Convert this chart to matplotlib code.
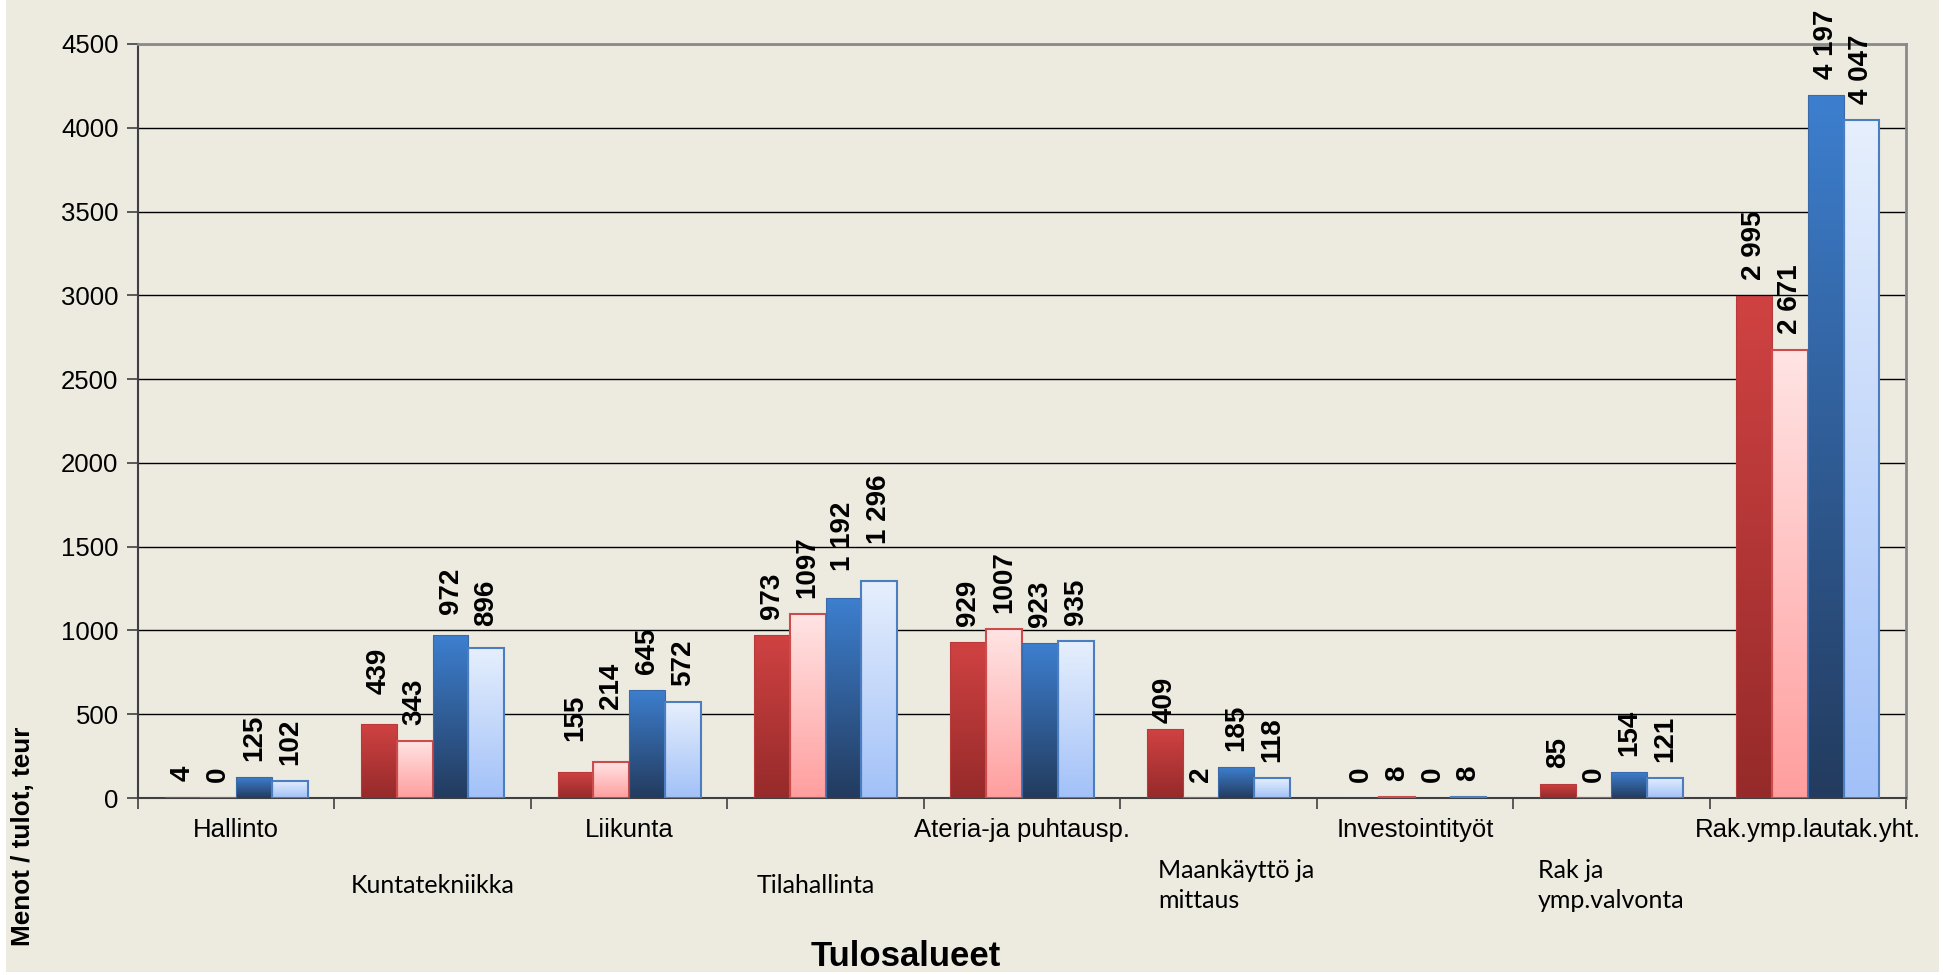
import numpy as np
import matplotlib
matplotlib.use("Agg")
import matplotlib.pyplot as plt
from matplotlib.patches import Rectangle
from matplotlib.colors import LinearSegmentedColormap
import matplotlib.transforms as mtransforms

# ---------------- data ----------------
categories = ["Hallinto", "Kuntatekniikka", "Liikunta", "Tilahallinta",
              "Ateria-ja puhtausp.", "Maankäyttö ja\nmittaus", "Investointityöt",
              "Rak ja\nymp.valvonta", "Rak.ymp.lautak.yht."]

s1_values = [4, 439, 155, 973, 929, 409, 0, 85, 2995]
s2_values = [0, 343, 214, 1097, 1007, 2, 8, 0, 2671]
s3_values = [125, 972, 645, 1192, 923, 185, 0, 154, 4197]
s4_values = [102, 896, 572, 1296, 935, 118, 8, 121, 4047]

s1_labels = ["4", "439", "155", "973", "929", "409", "0", "85", "2 995"]
s2_labels = ["0", "343", "214", "1097", "1007", "2", "8", "0", "2 671"]
s3_labels = ["125", "972", "645", "1 192", "923", "185", "0", "154", "4 197"]
s4_labels = ["102", "896", "572", "1 296", "935", "118", "8", "121", "4 047"]

y_ticks = [0, 500, 1000, 1500, 2000, 2500, 3000, 3500, 4000, 4500]
y_label = "Menot / tulot, teur"
x_label = "Tulosalueet"

# ---------------- style ----------------
W, H = 1943, 975
BG = "#EDEAE0"
ARIAL = "Liberation Sans"
CAL = "Lato"

series = [
    (s1_values, s1_labels, "#962A2A", "#D04242", "#B83A3A", 0.8),
    (s2_values, s2_labels, "#FF9E9E", "#FFE4E4", "#CC4B4B", 1.5),
    (s3_values, s3_labels, "#233B5E", "#3D7FCF", "#3A6BA8", 0.8),
    (s4_values, s4_labels, "#A2C1F8", "#E6EFFD", "#4A7EC0", 1.5),
]

# extra label lift (pixels) for labels Excel pushed away: (series, category) -> px
label_nudge = {(0, 1): 14, (0, 2): 15, (1, 2): 37, (2, 3): 11, (3, 3): 21,
               (0, 5): -10, (2, 1): 5, (3, 1): 6}
# horizontal shift (pixels) of some lower-row category labels
cat_shift = {3: -10, 5: 18}

fig = plt.figure(figsize=(W / 100, H / 100), dpi=100)
fig.patch.set_facecolor("white")
bgrect = Rectangle((6 / W, 3 / H), (1939 - 6) / W, (H - 3) / H,
                   transform=fig.transFigure, facecolor=BG,
                   edgecolor="none", zorder=-10)
fig.patches.append(bgrect)

ax = fig.add_axes([138 / W, 1 - 798 / H, (1906 - 138) / W, (798 - 44) / H])
ax.set_facecolor(BG)
ax.set_zorder(1)

n = len(categories)
x = np.arange(n)
bw = 0.182
offsets = (np.arange(4) - 1.5) * bw
px2pt = 72 / 100

grad = np.linspace(0, 1, 256).reshape(-1, 1)
for si, ((vals, labels, cbot, ctop, edge, lw), off) in enumerate(zip(series, offsets)):
    cmap = LinearSegmentedColormap.from_list("g", [cbot, ctop])
    bars = ax.bar(x + off, vals, bw, facecolor="none", edgecolor=edge,
                  linewidth=lw, zorder=3)
    for rect, v in zip(bars, vals):
        if v > 0:
            x0 = rect.get_x()
            im = ax.imshow(grad, extent=[x0, x0 + rect.get_width(), 0, v],
                           origin="lower", aspect="auto", cmap=cmap,
                           zorder=2.9, interpolation="bilinear")
            im.set_clip_path(rect)
    for ci, (xi, v, lab) in enumerate(zip(x + off, vals, labels)):
        lift = (16 + label_nudge.get((si, ci), 0)) * px2pt
        ax.annotate(lab, xy=(xi, v), xytext=(0, lift), textcoords="offset points",
                    rotation=90, ha="center", va="bottom", fontsize=20,
                    fontweight="bold", family=ARIAL, color="black", zorder=5,
                    annotation_clip=False)

ax.set_xlim(-0.5, n - 0.5)
ax.set_ylim(0, 4500)

ax.set_yticks(y_ticks)
ax.set_yticklabels([str(t) for t in y_ticks], fontsize=18.5, family=ARIAL)
ax.set_xticks(np.arange(n + 1) - 0.5)
ax.set_xticklabels([])
ax.tick_params(axis="both", direction="out", length=8, width=1.2,
               color="#404040")
ax.tick_params(axis="y", pad=6)

ax.yaxis.grid(True, color="black", linewidth=1.0)
ax.set_axisbelow(True)

for s in ["top", "right"]:
    ax.spines[s].set_color("#8A8A8A")
    ax.spines[s].set_linewidth(2)
for s in ["left", "bottom"]:
    ax.spines[s].set_color("#404040")
    ax.spines[s].set_linewidth(1.5)

trans = mtransforms.blended_transform_factory(ax.transData, ax.transAxes)
for i, cat in enumerate(categories):
    if i % 2 == 0:
        ax.text(i, -0.042, cat, transform=trans, ha="center", va="center",
                fontsize=18.5, family=ARIAL, color="black")
    else:
        t = ax.text(i, -0.116, cat, transform=trans, ha="center", va="center",
                    multialignment="left", fontsize=18, family=CAL,
                    color="black", linespacing=1.4)
        if i in cat_shift:
            t.set_transform(trans + mtransforms.ScaledTranslation(
                cat_shift[i] / 100, 0, fig.dpi_scale_trans))

fig.text(23 / W, 1 - 836 / H, y_label, rotation=90, ha="center", va="center",
         fontsize=18.8, fontweight="bold", family=ARIAL)
fig.text(906 / W, 1 - 966 / H, x_label, ha="center", va="baseline",
         fontsize=25, fontweight="bold", family=ARIAL)

fig.savefig("out.png", dpi=100, facecolor=fig.get_facecolor())
